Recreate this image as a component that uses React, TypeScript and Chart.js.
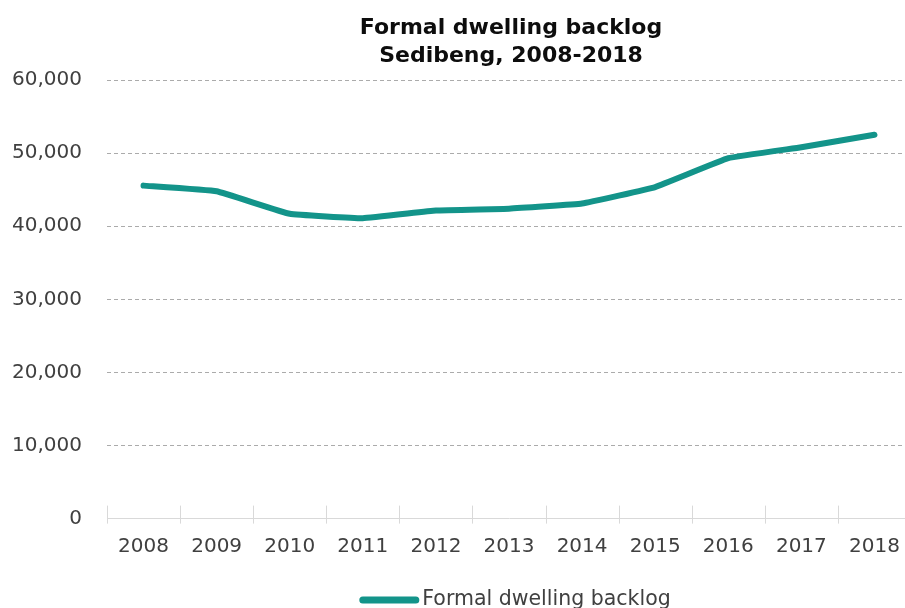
import React, { useEffect, useRef } from "react";
import { Chart, registerables } from "chart.js";

Chart.register(...registerables);

const years = ["2008", "2009", "2010", "2011", "2012", "2013", "2014", "2015", "2016", "2017", "2018"];
const backlog = [45550, 44780, 41700, 41100, 42150, 42400, 43100, 45350, 49300, 50800, 52500];
const titleLines = ["Formal dwelling backlog", "Sedibeng, 2008-2018"];
const seriesName = "Formal dwelling backlog";
const yMin = 0;
const yMax = 60000;
const yStep = 10000;

const LINE_COLOR = "#13948a";
const FONT = '"DejaVu Sans", "Open Sans", sans-serif';

const decorPlugin = {
  id: "decor",
  afterDraw(chart: any) {
    const { ctx, chartArea } = chart;
    const xs = chart.scales.x;
    const cx = (chartArea.left + chartArea.right) / 2;
    ctx.save();
    // title
    ctx.fillStyle = "#0d0d0d";
    ctx.textAlign = "center";
    ctx.textBaseline = "alphabetic";
    ctx.font = `bold 22px ${FONT}`;
    ctx.fillText(titleLines[0], cx + 2, 34);
    ctx.fillText(titleLines[1], cx + 2, 62);
    // category boundary tick marks
    ctx.strokeStyle = "#d9d9d9";
    ctx.lineWidth = 1;
    const n = years.length;
    for (let i = 0; i <= n; i++) {
      const x = Math.round(xs.left + (i * (xs.right - xs.left)) / n) + 0.5;
      ctx.beginPath();
      ctx.moveTo(x, chartArea.bottom - 13);
      ctx.lineTo(x, chartArea.bottom + 5);
      ctx.stroke();
    }
    // legend
    ctx.font = `20.5px ${FONT}`;
    const tw = ctx.measureText(seriesName).width;
    const sampleW = 60;
    const gap = 3;
    const total = sampleW + gap + tw;
    const lx = cx + 6 - total / 2;
    const ly = 600;
    ctx.strokeStyle = LINE_COLOR;
    ctx.lineWidth = 7;
    ctx.lineCap = "round";
    ctx.beginPath();
    ctx.moveTo(lx + 3.5, ly);
    ctx.lineTo(lx + sampleW - 3.5, ly);
    ctx.stroke();
    ctx.fillStyle = "#404040";
    ctx.textAlign = "left";
    ctx.fillText(seriesName, lx + sampleW + gap, ly + 5);
    ctx.restore();
  },
};

export default function App() {
  const canvasRef = useRef<HTMLCanvasElement | null>(null);

  useEffect(() => {
    if (!canvasRef.current) return;
    const chart = new Chart(canvasRef.current, {
      type: "line",
      data: {
        labels: years,
        datasets: [
          {
            label: seriesName,
            data: backlog,
            borderColor: LINE_COLOR,
            backgroundColor: LINE_COLOR,
            borderWidth: 6,
            pointRadius: 0,
            pointHoverRadius: 0,
            tension: 0.08,
            borderCapStyle: "round",
            borderJoinStyle: "round",
            fill: false,
          },
        ],
      },
      options: {
        responsive: false,
        animation: false,
        layout: { padding: { top: 80, right: 9, bottom: 51.4, left: 0 } },
        plugins: {
          legend: { display: false },
          title: { display: false },
          tooltip: { enabled: false },
        },
        scales: {
          x: {
            type: "category",
            offset: true,
            grid: { display: false, drawTicks: false },
            border: { display: true, color: "#d9d9d9", width: 1 },
            ticks: {
              color: "#404040",
              font: { family: FONT, size: 20 },
              padding: 16,
              maxRotation: 0,
              autoSkip: false,
            },
            afterFit: (s: any) => {
              s.height = 50;
            },
          },
          y: {
            min: yMin,
            max: yMax,
            ticks: {
              stepSize: yStep,
              padding: 25,
              color: "#404040",
              font: { family: FONT, size: 20 },
              callback: (v: any) => Number(v).toLocaleString("en-US"),
            },
            grid: {
              color: (c: any) => (c.tick && c.tick.value === 0 ? "rgba(0,0,0,0)" : "#ababab"),
              lineWidth: 1,
              drawTicks: false,
            },
            border: { display: false, dash: [4, 3] },
            afterFit: (s: any) => {
              s.width = 107;
            },
          },
        },
      },
      plugins: [decorPlugin],
    });
    return () => chart.destroy();
  }, []);

  return (
    <div
      style={{
        position: "fixed",
        left: 0,
        top: 0,
        width: 905,
        height: 608,
        overflow: "hidden",
        background: "#fff",
      }}
    >
      <canvas ref={canvasRef} width={920} height={620} style={{ display: "block" }} />
    </div>
  );
}
